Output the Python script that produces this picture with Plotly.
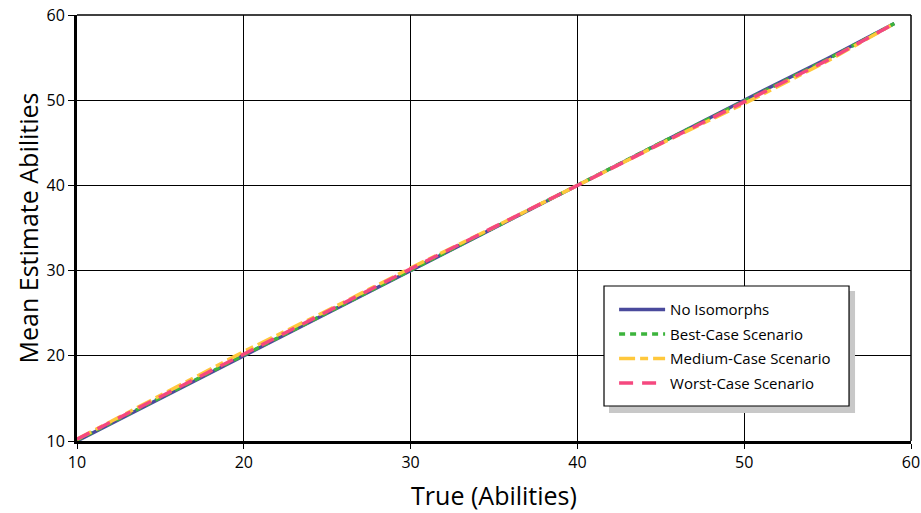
import plotly.graph_objects as go

true_abilities = [10, 15, 20, 25, 30, 35, 40, 45, 50, 55, 59]
no_isomorphs = [10.0, 15.0, 20.0, 25.0, 30.0, 35.1, 40.0, 45.1, 50.0, 54.9, 59.0]
best_case = [10.1, 15.1, 20.1, 25.1, 30.1, 35.1, 40.0, 45.0, 49.9, 54.8, 59.0]
medium_case = [10.2, 15.3, 20.5, 25.3, 30.3, 35.1, 40.0, 44.9, 49.6, 54.6, 59.0]
worst_case = [10.2, 15.2, 20.3, 25.2, 30.2, 35.1, 40.0, 44.9, 49.7, 54.7, 59.0]

series = [
    ("No Isomorphs", no_isomorphs, "#4a4a9c", "solid"),
    ("Best-Case Scenario", best_case, "#3cb43c", "6px,5px"),
    ("Medium-Case Scenario", medium_case, "#ffc83c", "16px,5px,8px,5px"),
    ("Worst-Case Scenario", worst_case, "#f5487f", "14px,9px"),
]

font_family = "Open Sans, Noto Sans, sans-serif"

fig = go.Figure()
for name, ys, color, dash in series:
    fig.add_trace(go.Scatter(
        x=true_abilities, y=ys, mode="lines", name=name, legendgroup=name,
        line=dict(color=color, width=3.5, dash=dash),
    ))

fig.update_layout(
    width=921, height=513,
    margin=dict(l=77, r=10, t=15, b=72, autoexpand=False),
    paper_bgcolor="white", plot_bgcolor="white",
    font=dict(family=font_family, color="black", size=15),
    showlegend=True,
    legend=dict(
        x=0.644, y=0.347, xanchor="left", yanchor="top",
        bgcolor="rgba(0,0,0,0)", borderwidth=0,
        font=dict(size=15), tracegroupgap=2,
        itemwidth=46,
    ),
    shapes=[
        dict(type="rect", xref="paper", yref="paper", layer="above",
             x0=0.6379, x1=0.9329, y0=0.0657, y1=0.3521,
             fillcolor="#c8c8c8", line=dict(width=0)),
        dict(type="rect", xref="paper", yref="paper", layer="above",
             x0=0.6319, x1=0.9257, y0=0.0822, y1=0.3638,
             fillcolor="white", line=dict(color="black", width=1.2)),
        # top and right frame lines
        dict(type="line", xref="paper", yref="paper", x0=0, x1=1, y0=1, y1=1,
             line=dict(color="black", width=1.5)),
        dict(type="line", xref="paper", yref="paper", x0=1, x1=1, y0=0, y1=1,
             line=dict(color="black", width=1.5)),
    ],
)

fig.update_xaxes(
    range=[10, 60], dtick=10, tick0=10,
    showgrid=True, gridcolor="black", gridwidth=1,
    showline=True, linecolor="black", linewidth=3, mirror=False,
    ticks="outside", ticklen=5, tickcolor="black", tickwidth=1,
    tickfont=dict(size=16), automargin=False, ticklabeloverflow="allow",
    title=dict(text="True (Abilities)", font=dict(size=25), standoff=16),
    zeroline=False,
)
fig.update_yaxes(
    range=[10, 60], dtick=10, tick0=10,
    showgrid=True, gridcolor="black", gridwidth=1,
    showline=True, linecolor="black", linewidth=3,
    ticks="outside", ticklen=6, tickcolor="black", tickwidth=1,
    tickfont=dict(size=16), automargin=False, ticklabeloverflow="allow",
    title=dict(text="Mean Estimate Abilities", font=dict(size=25), standoff=1),
    zeroline=False,
)

fig.write_html(
    "out.html",
    config={"displayModeBar": False},
    post_script="document.body.style.margin='0px';document.body.style.overflow='hidden';",
)
